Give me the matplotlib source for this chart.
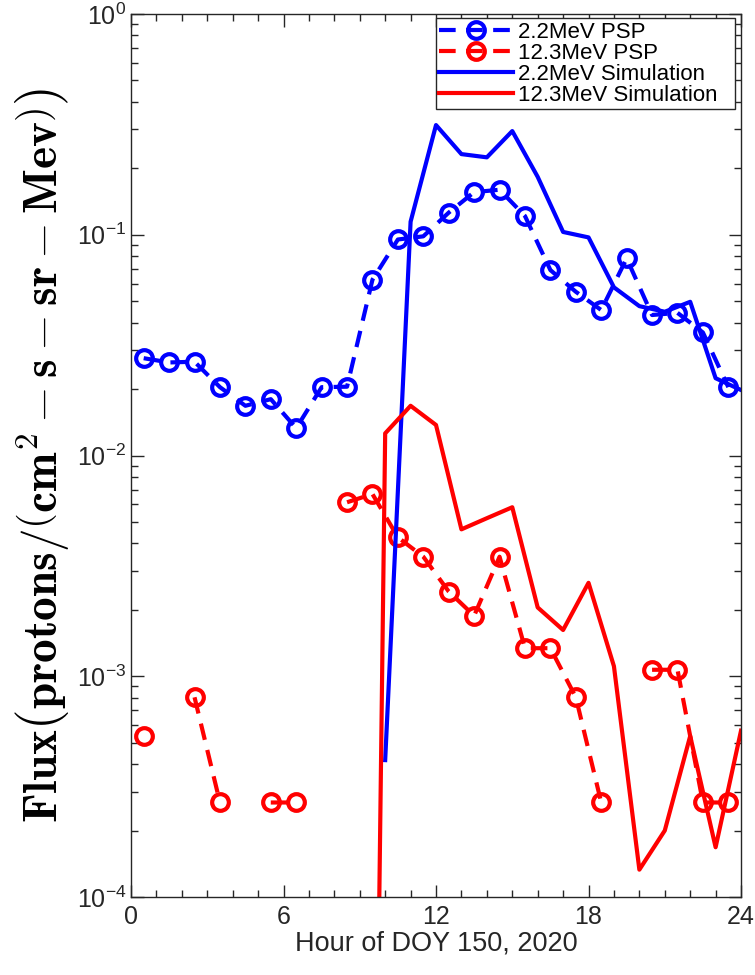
import numpy as np
import matplotlib.pyplot as plt
from matplotlib.ticker import LogLocator, MultipleLocator, NullFormatter

plt.rcParams['font.family'] = ['Liberation Sans', 'DejaVu Sans']
plt.rcParams['mathtext.fontset'] = 'cm'

# PSP observations (half-hour centres), NaN where no measurement
psp_hours = np.arange(0.5, 24, 1.0)
psp_22 = [0.0276, 0.0264, 0.0266, 0.0204, 0.0168, 0.0180, 0.0133, 0.0204,
          0.0205, 0.0626, 0.0952, 0.0984, 0.126, 0.156, 0.160, 0.1216,
          0.0692, 0.0552, 0.0456, 0.0782, 0.0433, 0.0443, 0.0361, 0.0204]
psp_123 = [5.36e-4, np.nan, 8.03e-4, 2.68e-4, np.nan, 2.68e-4, 2.68e-4, np.nan,
           6.14e-3, 6.69e-3, 4.26e-3, 3.48e-3, 2.42e-3, 1.88e-3, 3.48e-3, 1.34e-3,
           1.34e-3, 8.03e-4, 2.68e-4, np.nan, 1.07e-3, 1.07e-3, 2.68e-4, 2.68e-4]

# simulation (hourly)
sim22_hours = np.arange(10, 25)
sim_22 = [4.17e-4, 0.1146, 0.314, 0.232, 0.2243, 0.295, 0.183, 0.103,
          0.0973, 0.0578, 0.0475, 0.0448, 0.0497, 0.0224, 0.0198]
sim123_hours = np.arange(9, 25)
sim_123 = [1e-11, 0.0126, 0.0168, 0.01375, 4.63e-3, 5.2e-3, 5.83e-3, 2.05e-3,
           1.62e-3, 2.65e-3, 1.11e-3, 1.33e-4, 2.0e-4, 5.36e-4, 1.68e-4, 5.67e-4]

fig = plt.figure(figsize=(7.55, 9.75), dpi=100)
ax = fig.add_axes([0.1735, 0.08, 0.808, 0.9056])

dash = (4, 2.5)
ax.plot(psp_hours, psp_22, color='blue', ls='--', dashes=dash, lw=3,
        marker='o', ms=12, mew=3, mfc='none', label='2.2MeV PSP')
ax.plot(psp_hours, psp_123, color='red', ls='--', dashes=dash, lw=3,
        marker='o', ms=12, mew=3, mfc='none', label='12.3MeV PSP')
ax.plot(sim22_hours, sim_22, color='blue', lw=3, label='2.2MeV Simulation')
ax.plot(sim123_hours, sim_123, color='red', lw=3, label='12.3MeV Simulation')

ax.set_yscale('log')
ax.set_ylim(1e-4, 1)
ax.set_xlim(0, 24)
ax.set_xticks([0, 6, 12, 18, 24])
ax.xaxis.set_minor_locator(MultipleLocator(1))
ax.yaxis.set_minor_locator(LogLocator(base=10, subs=np.arange(2, 10)))
ax.yaxis.set_minor_formatter(NullFormatter())

ax.tick_params(which='both', direction='in', top=True, right=True,
               colors='#262626', labelsize=18, width=1)
ax.tick_params(which='major', length=9)
ax.tick_params(which='minor', length=5)
ax.tick_params(axis='x', pad=6)
for s in ax.spines.values():
    s.set_color('#262626')
    s.set_linewidth(1)

ax.set_xlabel('Hour of DOY 150, 2020', fontsize=19.5, color='#262626', labelpad=1)
ax.set_ylabel(r'$\mathbf{Flux}\left(\mathbf{protons}/\left(\mathbf{cm}^{2}-\mathbf{s}-\mathbf{sr}-\mathbf{Mev}\right)\right)$',
              fontsize=34, labelpad=4)

leg = ax.legend(loc='upper left', bbox_to_anchor=(0.5, 0.995, 0.4902, 0),
                mode='expand', fontsize=16, handlelength=3.3, numpoints=1,
                labelspacing=0.0, borderpad=0.15, handletextpad=0.25,
                fancybox=False, framealpha=1, borderaxespad=0)
leg.get_frame().set_edgecolor('#262626')
leg.get_frame().set_linewidth(1)

fig.savefig('out.png', dpi=100)
